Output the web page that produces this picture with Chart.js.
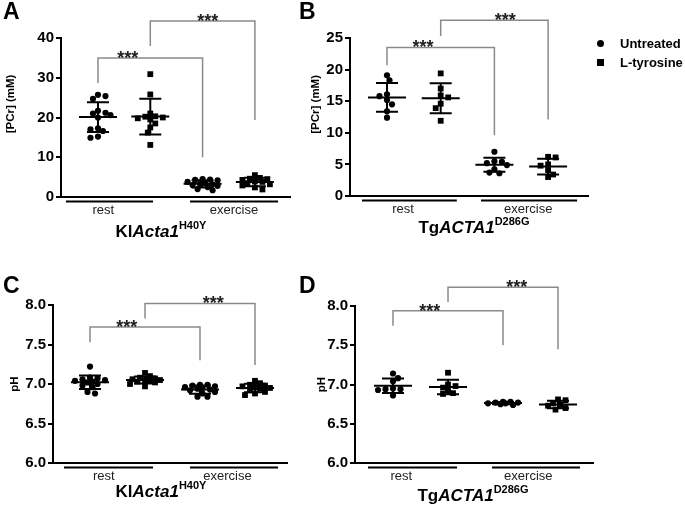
<!DOCTYPE html>
<html>
<head>
<meta charset="utf-8">
<script src="https://cdn.jsdelivr.net/npm/chart.js@4.4.0/dist/chart.umd.min.js"></script>
<style>
  body { margin: 0; background: #fff; font-family: "Liberation Sans", Arial, sans-serif; }
  #fig { position: relative; width: 685px; height: 507px; overflow: hidden; }
  canvas { position: absolute; }
  .letter { position: absolute; font-weight: bold; font-size: 23px; line-height: 23px; }
  .title { position: absolute; font-weight: bold; font-size: 17px; line-height: 17px; white-space: nowrap; transform: translateX(-50%); }
  .title sup { font-size: 11px; position: relative; top: -1px; vertical-align: super; line-height: 0; }
  .leg { position: absolute; font-weight: bold; font-size: 13px; line-height: 13px; }
  .mk { position: absolute; background: #000; width: 7px; height: 7px; }
</style>
</head>
<body>
<div id="fig">
  <canvas id="cA" width="300" height="250" style="left:0;top:0"></canvas>
  <canvas id="cB" width="300" height="250" style="left:305px;top:0"></canvas>
  <canvas id="cC" width="300" height="257" style="left:0;top:250px"></canvas>
  <canvas id="cD" width="300" height="257" style="left:305px;top:250px"></canvas>

  <div class="letter" style="left:3px;top:0">A</div>
  <div class="letter" style="left:299px;top:0">B</div>
  <div class="letter" style="left:3px;top:274px">C</div>
  <div class="letter" style="left:299px;top:274px">D</div>

  <div class="title" style="left:161px;top:223px">Kl<i>Acta1</i><sup>H40Y</sup></div>
  <div class="title" style="left:474px;top:219px">Tg<i>ACTA1</i><sup>D286G</sup></div>
  <div class="title" style="left:161px;top:483px">Kl<i>Acta1</i><sup>H40Y</sup></div>
  <div class="title" style="left:473px;top:487px">Tg<i>ACTA1</i><sup>D286G</sup></div>

  <div class="mk" style="left:597px;top:40px;border-radius:50%"></div>
  <div class="leg" style="left:620px;top:37px">Untreated</div>
  <div class="mk" style="left:597px;top:59px"></div>
  <div class="leg" style="left:620px;top:56px">L-tyrosine</div>
</div>

<script>
// categories and series
const categories = ['rest', 'exercise'];
const seriesNames = ['Untreated', 'L-tyrosine'];

// A: [PCr] (mM), KI Acta1 H40Y
const pcrKiUntreatedRest = [25.7, 24.7, 25.4, 21.2, 20.6, 20.0, 21.0, 21.7, 17.3, 16.6, 14.9, 15.2, 17.0];
const pcrKiTyrRest = [30.9, 25.8, 21.0, 20.0, 20.2, 19.8, 19.5, 18.5, 17.5, 16.2, 13.1, 20.3];
const pcrKiUntreatedEx = [4.5, 4.4, 4.3, 4.2, 3.8, 3.5, 3.3, 3.2, 3.0, 2.8, 2.5, 2.0, 1.7];
const pcrKiTyrEx = [5.5, 4.8, 4.6, 4.5, 4.3, 4.0, 3.8, 3.5, 3.2, 2.9, 2.4, 1.9];

// B: [PCr] (mM), Tg ACTA1 D286G
const pcrTgUntreatedRest = [19.1, 18.3, 15.2, 16.1, 15.8, 14.5, 12.4, 13.4];
const pcrTgTyrRest = [19.4, 17.0, 15.9, 14.6, 15.6, 13.9, 11.9];
const pcrTgUntreatedEx = [7.0, 5.5, 5.2, 5.4, 4.9, 4.2, 3.6, 3.7];
const pcrTgTyrEx = [6.2, 6.1, 5.0, 4.8, 4.1, 3.4, 3.0];

// C: pH, KI Acta1 H40Y
const phKiUntreatedRest = [7.22, 7.08, 7.07, 7.06, 7.05, 7.04, 7.03, 7.02, 7.00, 6.98, 6.96, 6.90, 6.88];
const phKiTyrRest = [7.14, 7.10, 7.08, 7.07, 7.06, 7.05, 7.05, 7.04, 7.03, 7.02, 7.00, 6.97];
const phKiUntreatedEx = [6.99, 6.99, 6.98, 6.97, 6.96, 6.95, 6.94, 6.93, 6.92, 6.90, 6.88, 6.84, 6.84];
const phKiTyrEx = [7.04, 7.01, 6.99, 6.98, 6.97, 6.96, 6.95, 6.94, 6.92, 6.90, 6.88, 6.86];

// D: pH, Tg ACTA1 D286G
const phTgUntreatedRest = [7.14, 7.08, 7.04, 6.95, 6.94, 6.93, 6.94, 6.86];
const phTgTyrRest = [7.15, 7.00, 6.98, 6.96, 6.92, 6.88, 6.89];
const phTgUntreatedEx = [6.78, 6.78, 6.77, 6.77, 6.76, 6.76, 6.75, 6.74];
const phTgTyrEx = [6.81, 6.80, 6.76, 6.74, 6.73, 6.70, 6.68];

const sigLabel = '***';
const FONT = '"Liberation Sans", Arial, sans-serif';

const panels = [
  { id: 'cA', pad: { left: 3, top: 38, right: 10, bottom: 53 }, yWidth: 58,
    yMin: 0, yMax: 40, yStep: 10, dec: 0, yTitle: '[PCr] (mM)', titleX: 11, titleAt: 23.4,
    xMin: 0.293, xMax: 4.671,
    under: [[0.388, 2.052], [2.759, 4.442]], labelX: [1.1, 3.6],
    series: [[pcrKiUntreatedRest, pcrKiUntreatedEx], [pcrKiTyrRest, pcrKiTyrEx]],
    brackets: [{ from: 1, to: 3, top: 35, left: 28.7, right: 10, star: 1.57 },
               { from: 2, to: 4, top: 44.3, left: 38, right: 19.4, star: 3.1 }] },
  { id: 'cB', pad: { left: 4, top: 38, right: 17, bottom: 54 }, yWidth: 41,
    yMin: 0, yMax: 25, yStep: 5, dec: 0, yTitle: '[PCr] (mM)', titleX: 11, titleAt: 14.5,
    xMin: 0.311, xMax: 4.743,
    under: [[0.534, 2.30], [2.75, 4.54]], labelX: [1.3, 3.63],
    series: [[pcrTgUntreatedRest, pcrTgUntreatedEx], [pcrTgTyrRest, pcrTgTyrEx]],
    brackets: [{ from: 1, to: 3, top: 23.5, left: 20.7, right: 9.6, star: 1.67 },
               { from: 2, to: 4, top: 27.8, left: 25.3, right: 12.1, star: 3.2 }] },
  { id: 'cC', pad: { left: 8, top: 55, right: 13, bottom: 44 }, yWidth: 45,
    yMin: 6, yMax: 8, yStep: 0.5, dec: 1, yTitle: 'pH', titleX: 15, titleAt: 7.0,
    xMin: 0.327, xMax: 4.582,
    under: [[0.527, 2.145], [2.818, 4.418]], labelX: [1.25, 3.5],
    series: [[phKiUntreatedRest, phKiUntreatedEx], [phKiTyrRest, phKiTyrEx]],
    brackets: [{ from: 1, to: 3, top: 7.72, left: 7.53, right: 7.30, star: 1.67 },
               { from: 2, to: 4, top: 8.02, left: 7.83, right: 7.24, star: 3.24 }] },
  { id: 'cD', pad: { left: 10, top: 56, right: 12, bottom: 44 }, yWidth: 40,
    yMin: 6, yMax: 8, yStep: 0.5, dec: 1, yTitle: 'pH', titleX: 17, titleAt: 7.0,
    xMin: 0.309, xMax: 4.636,
    under: [[0.545, 2.164], [2.8, 4.4]], labelX: [1.15, 3.46],
    series: [[phTgUntreatedRest, phTgUntreatedEx], [phTgTyrRest, phTgTyrEx]],
    brackets: [{ from: 1, to: 3, top: 7.94, left: 7.75, right: 7.5, star: 1.67 },
               { from: 2, to: 4, top: 8.24, left: 8.05, right: 7.45, star: 3.25 }] }
];

// x position of a group: untreated rest 1, L-tyr rest 2, untreated exercise 3, L-tyr exercise 4
const groupPos = (s, g) => g * 2 + s + 1;

function stats(vals) {
  const n = vals.length;
  const mean = vals.reduce((a, b) => a + b, 0) / n;
  const sd = Math.sqrt(vals.reduce((a, b) => a + (b - mean) ** 2, 0) / (n - 1));
  return { mean, sd };
}

// simple beeswarm: sideways offsets (px), kept within +-maxOff; overlap allowed when crowded
function swarm(yPix, minDist, step, maxOff) {
  const order = yPix.map((v, i) => i).sort((a, b) => yPix[a] - yPix[b]);
  const placed = [];
  const off = new Array(yPix.length).fill(0);
  let flip = 1;
  order.forEach(i => {
    let best = 0, bestGap = -1;
    for (let k = 0; ; k++) {
      const dx = k === 0 ? 0 : (k % 2 ? flip : -flip) * Math.ceil(k / 2) * step;
      if (Math.abs(dx) > maxOff) break;
      const gap = placed.reduce((m, p) => Math.min(m, Math.hypot(p.dx - dx, p.y - yPix[i])), Infinity);
      if (gap >= minDist) { best = dx; bestGap = gap; break; }
      if (gap > bestGap + 0.5) { best = dx; bestGap = gap; }
    }
    off[i] = best;
    placed.push({ dx: best, y: yPix[i] });
    if (best !== 0) flip = -flip;
  });
  return off;
}

function makePlugin(panel) {
  return {
    id: 'extras',
    afterDatasetsDraw(chart) {
      const { ctx, scales: { x, y } } = chart;
      ctx.save();
      ctx.strokeStyle = '#000';
      ctx.lineWidth = 2;
      panel.series.forEach((ser, s) => ser.forEach((vals, g) => {
        const { mean, sd } = stats(vals);
        const cx = x.getPixelForValue(groupPos(s, g));
        const ym = y.getPixelForValue(mean), yt = y.getPixelForValue(mean + sd), yb = y.getPixelForValue(mean - sd);
        ctx.beginPath();
        ctx.moveTo(cx - 19, ym); ctx.lineTo(cx + 19, ym);
        ctx.moveTo(cx, yt); ctx.lineTo(cx, yb);
        ctx.moveTo(cx - 11, yt); ctx.lineTo(cx + 11, yt);
        ctx.moveTo(cx - 11, yb); ctx.lineTo(cx + 11, yb);
        ctx.stroke();
      }));
      ctx.restore();
    },
    afterDraw(chart) {
      const { ctx, chartArea, scales: { x, y } } = chart;
      ctx.save();
      // y axis title
      ctx.save();
      ctx.translate(panel.titleX, y.getPixelForValue(panel.titleAt));
      ctx.rotate(-Math.PI / 2);
      ctx.fillStyle = '#000';
      ctx.font = 'bold 11.5px ' + FONT;
      ctx.textAlign = 'center';
      ctx.textBaseline = 'middle';
      ctx.fillText(panel.yTitle, 0, 0);
      ctx.restore();
      // significance brackets
      ctx.strokeStyle = '#8a8a8a';
      ctx.lineWidth = 1.5;
      panel.brackets.forEach(b => {
        const x1 = x.getPixelForValue(b.from), x2 = x.getPixelForValue(b.to);
        const yt = y.getPixelForValue(b.top);
        ctx.beginPath();
        ctx.moveTo(x1, y.getPixelForValue(b.left));
        ctx.lineTo(x1, yt); ctx.lineTo(x2, yt);
        ctx.lineTo(x2, y.getPixelForValue(b.right));
        ctx.stroke();
        ctx.fillStyle = '#222';
        ctx.font = 'bold 18px ' + FONT;
        ctx.textAlign = 'center';
        ctx.textBaseline = 'alphabetic';
        ctx.fillText(sigLabel, x.getPixelForValue(b.star), yt + 6);
      });
      // group underlines and labels
      ctx.strokeStyle = '#000';
      ctx.lineWidth = 2;
      ctx.fillStyle = '#222';
      ctx.font = '13px ' + FONT;
      panel.under.forEach((u, g) => {
        const yl = chartArea.bottom + 4.5;
        ctx.beginPath();
        ctx.moveTo(x.getPixelForValue(u[0]), yl);
        ctx.lineTo(x.getPixelForValue(u[1]), yl);
        ctx.stroke();
        ctx.fillText(categories[g], x.getPixelForValue(panel.labelX[g]), chartArea.bottom + 16.5);
      });
      ctx.restore();
    }
  };
}

panels.forEach(panel => {
  const datasets = panel.series.map((ser, s) => ({
    label: seriesNames[s],
    data: ser.flatMap((vals, g) => vals.map(v => ({ x: groupPos(s, g), y: v }))),
    pointStyle: s === 0 ? 'circle' : 'rect',
    pointRadius: s === 0 ? 3.1 : 4.1,
    pointBackgroundColor: '#000',
    pointBorderColor: '#000',
    pointBorderWidth: 0,
    showLine: false
  }));

  const chart = new Chart(document.getElementById(panel.id), {
    type: 'scatter',
    data: { datasets },
    options: {
      responsive: false,
      animation: false,
      events: [],
      layout: { padding: panel.pad, autoPadding: false },
      plugins: { legend: { display: false }, tooltip: { enabled: false } },
      scales: {
        x: {
          type: 'linear', min: panel.xMin, max: panel.xMax,
          grid: { display: false },
          ticks: { display: false },
          border: { display: true, color: '#000', width: 2 },
          afterFit: s => { s.height = 0; }
        },
        y: {
          min: panel.yMin, max: panel.yMax,
          grid: { drawOnChartArea: false, drawTicks: true, tickLength: 5, color: '#000', lineWidth: 2 },
          border: { display: true, color: '#000', width: 2 },
          ticks: {
            stepSize: panel.yStep, color: '#000', padding: 2,
            font: { family: FONT, size: 15, weight: 'bold' },
            callback: v => v.toFixed(panel.dec)
          },
          afterFit: s => { s.width = panel.yWidth; }
        }
      }
    },
    plugins: [makePlugin(panel)]
  });

  // spread the markers of each group sideways, in pixels, through the scales
  const xs = chart.scales.x, ys = chart.scales.y;
  const pxPerUnit = xs.getPixelForValue(1) - xs.getPixelForValue(0);
  panel.series.forEach((ser, s) => {
    chart.data.datasets[s].data = ser.flatMap((vals, g) => {
      const off = swarm(vals.map(v => ys.getPixelForValue(v)), 5.5, 2.5, 16);
      return vals.map((v, i) => ({ x: groupPos(s, g) + off[i] / pxPerUnit, y: v }));
    });
  });
  chart.update('none');
});
</script>
</body>
</html>
